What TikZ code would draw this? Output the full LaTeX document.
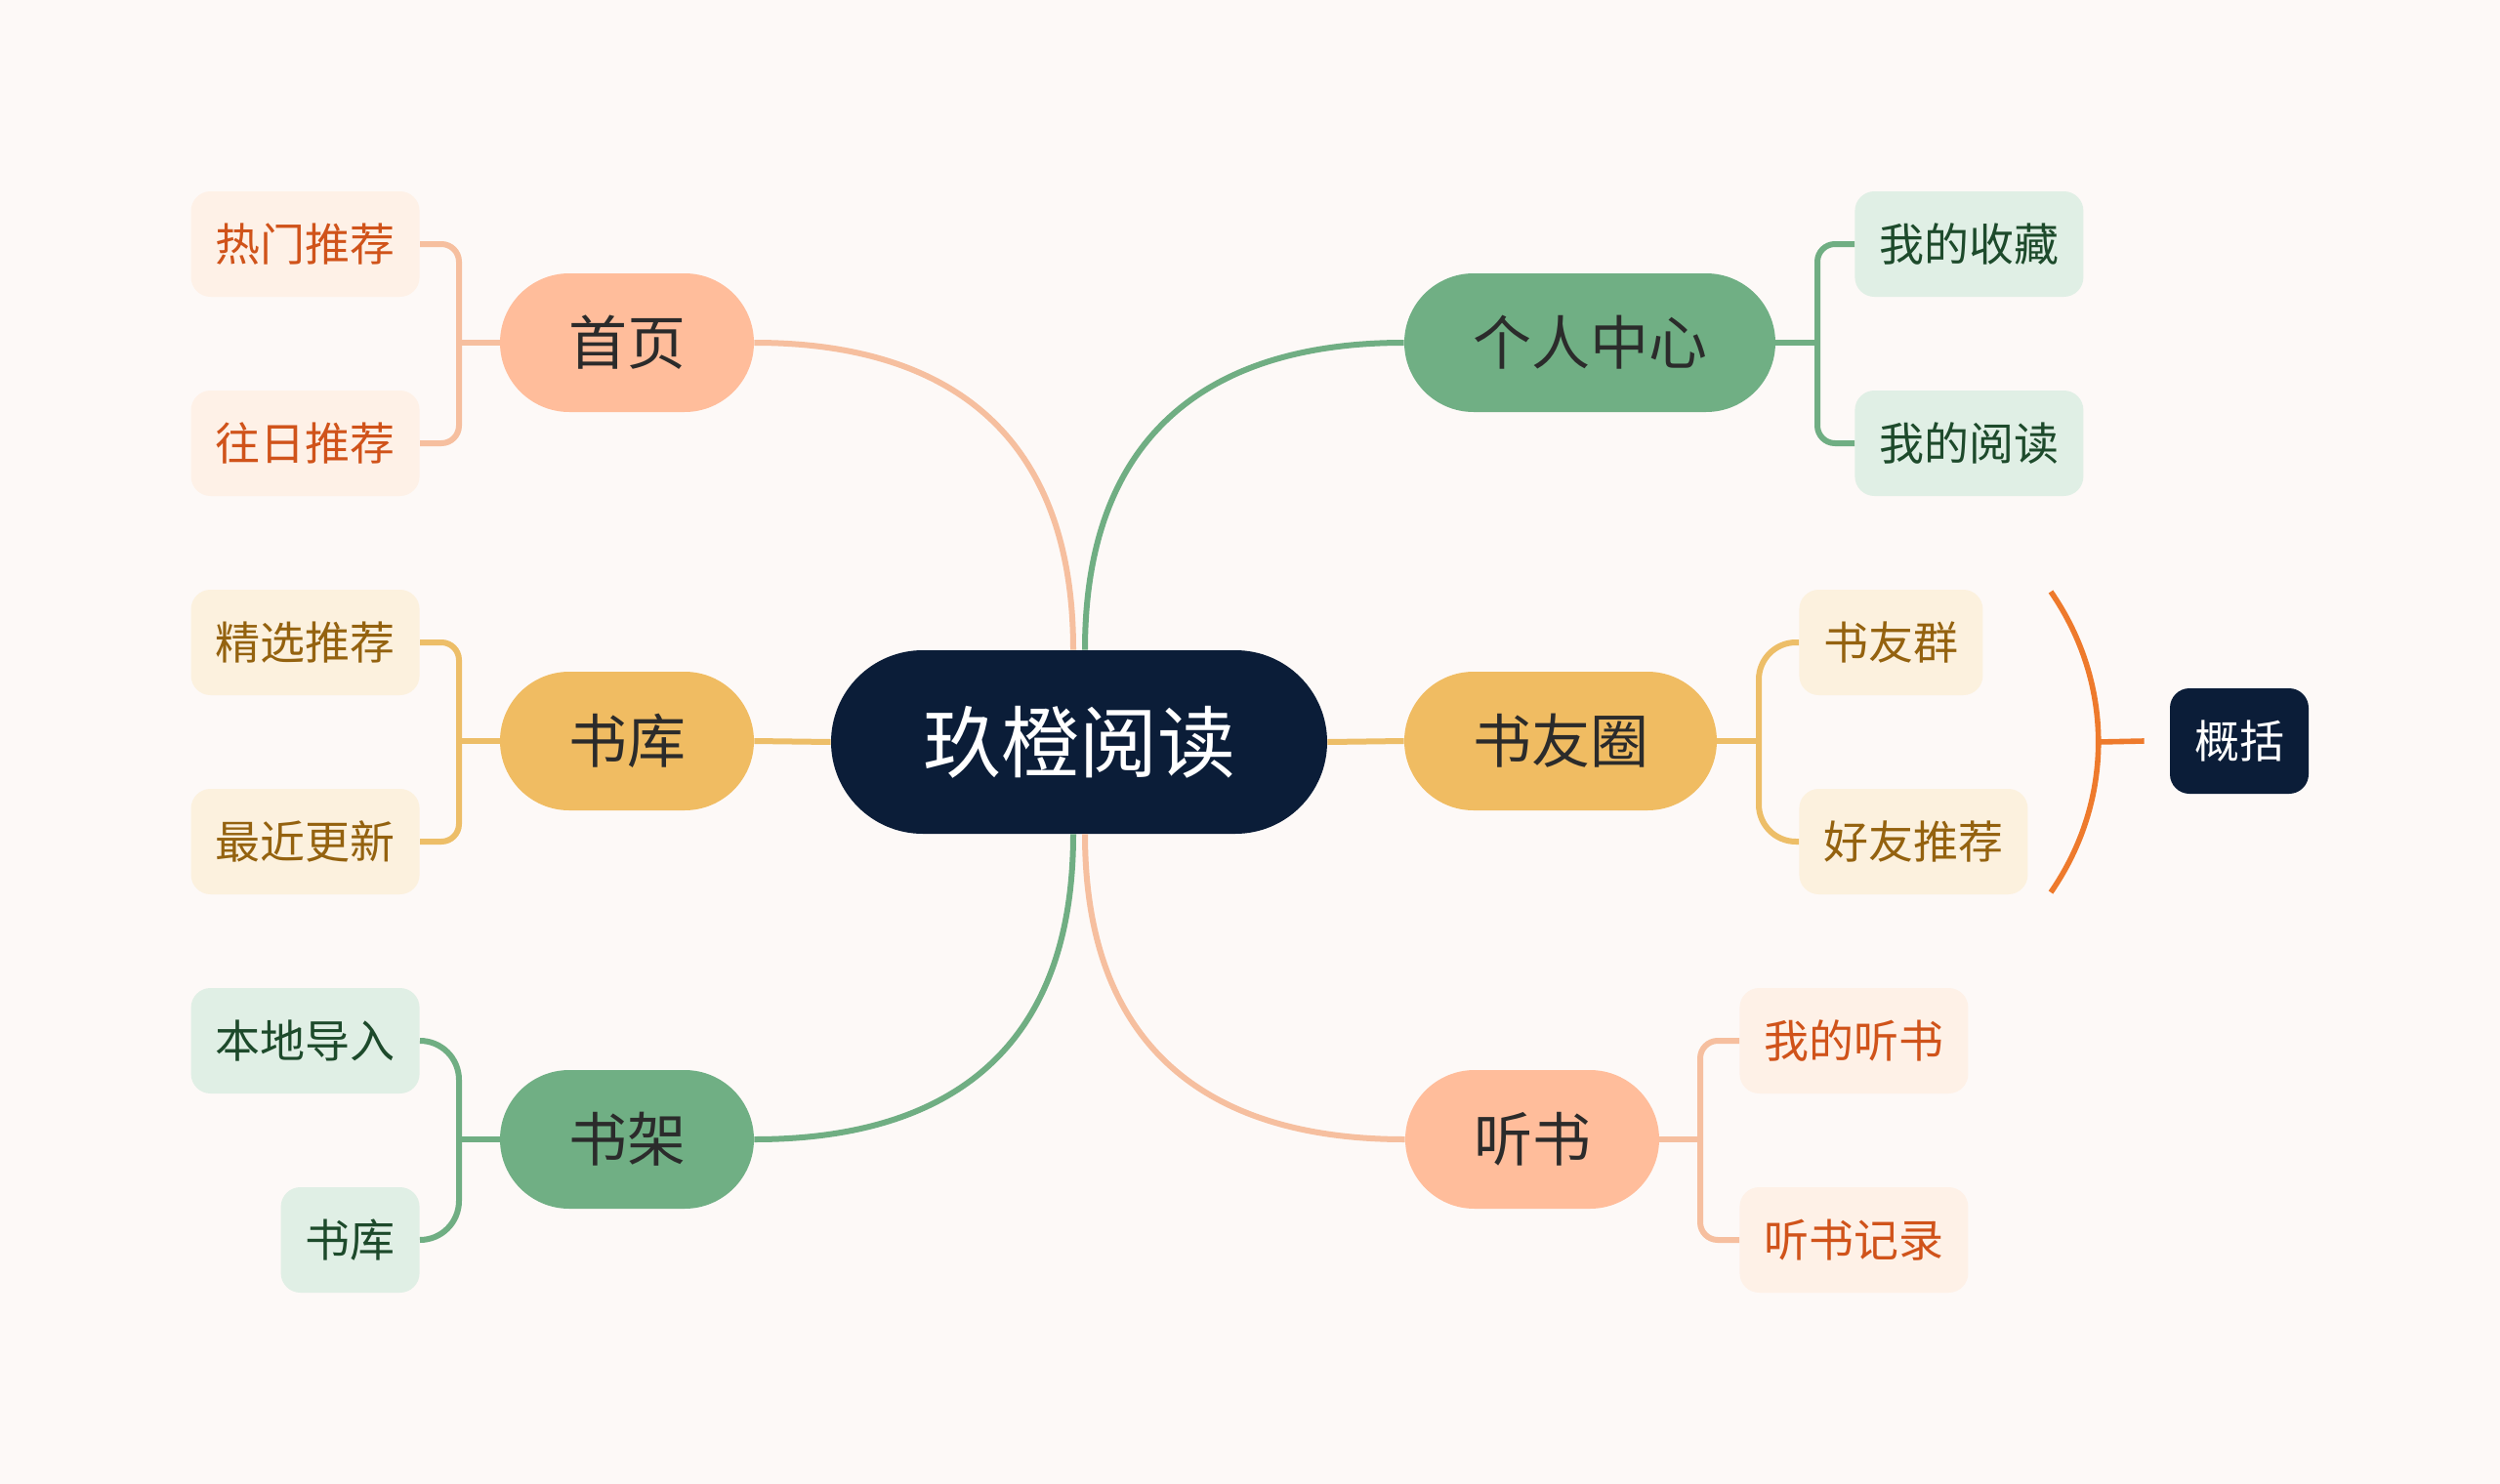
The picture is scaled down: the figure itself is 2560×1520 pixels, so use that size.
\documentclass[tikz,border=0pt]{standalone}
\usepackage{fontspec}
\newfontfamily\cjk{Noto Sans CJK SC}
\usetikzlibrary{positioning}
\definecolor{bgc}{HTML}{FDF9F7}
\definecolor{navy}{HTML}{0B1D38}
\definecolor{peach}{HTML}{FFBD9B}
\definecolor{gold}{HTML}{F0BC62}
\definecolor{sage}{HTML}{70AF84}
\definecolor{peachl}{HTML}{FEF1E7}
\definecolor{goldl}{HTML}{FCF1DE}
\definecolor{sagel}{HTML}{E0EFE5}
\definecolor{peacht}{HTML}{D0531A}
\definecolor{goldt}{HTML}{94620F}
\definecolor{saget}{HTML}{1D4A2B}
\definecolor{peachc}{HTML}{F6BF9F}
\definecolor{goldc}{HTML}{EDBE68}
\definecolor{sagec}{HTML}{70AE83}
\definecolor{sumc}{HTML}{EE7A2C}
\tikzset{
  root/.style={fill=navy, text=white, rounded corners=47pt, minimum height=94pt, inner xsep=47pt, font=\cjk\fontsize{40}{40}\selectfont},
  topic/.style={fill=#1, text=black!83, rounded corners=35.5pt, minimum height=71pt, inner xsep=35pt, font=\cjk\fontsize{30}{30}\selectfont},
  leaf/.style 2 args={fill=#1, text=#2, rounded corners=10pt, minimum height=54pt, inner xsep=12.5pt, font=\cjk\fontsize{23}{23}\selectfont},
  link/.style={draw=#1, line width=3pt},
  fork/.style={draw=#1, line width=3pt, rounded corners=9pt},
  sumline/.style={draw=sumc, line width=2.8pt},
}
\begin{document}
\begin{tikzpicture}[x=0.5pt, y=-0.5pt]
\fill[bgc] (0,0) rectangle (2560,1520);
\node[root] (read) at (1105,760) {玖橙阅读};
\node[topic=peach] (home) at (642,351) {首页};
\node[topic=gold] (lib) at (642,759) {书库};
\node[topic=sage] (shelf) at (642,1167) {书架};
\node[topic=sage] (mine) at (1628,351) {个人中心};
\node[topic=gold] (friends) at (1598,759) {书友圈};
\node[topic=peach] (listen) at (1569,1167) {听书};
\node[leaf={peachl}{peacht}, anchor=east] (hot) at (430,250) {热门推荐};
\node[leaf={peachl}{peacht}, anchor=east] (past) at (430,454) {往日推荐};
\node[leaf={goldl}{goldt}, anchor=east] (pick) at (430,658) {精选推荐};
\node[leaf={goldl}{goldt}, anchor=east] (latest) at (430,862) {最近更新};
\node[leaf={sagel}{saget}, anchor=east] (import) at (430,1066) {本地导入};
\node[leaf={sagel}{saget}, anchor=east] (store) at (430,1270) {书库};
\node[leaf={sagel}{saget}, anchor=west] (fav) at (1899,250) {我的收藏};
\node[leaf={sagel}{saget}, anchor=west] (myread) at (1899,454) {我的阅读};
\node[leaf={goldl}{goldt}, anchor=west] (group) at (1842,658) {书友群};
\node[leaf={goldl}{goldt}, anchor=west] (suggest) at (1842,862) {好友推荐};
\node[leaf={peachl}{peacht}, anchor=west] (mylisten) at (1781,1066) {我的听书};
\node[leaf={peachl}{peacht}, anchor=west] (history) at (1781,1270) {听书记录};
\node[leaf={navy}{white}] (sum) at (2293,759) {概括};
\coordinate (rtl) at ([xshift=-3pt]read.north);
\coordinate (rtr) at ([xshift=3pt]read.north);
\coordinate (rbl) at ([xshift=-3pt]read.south);
\coordinate (rbr) at ([xshift=3pt]read.south);
\draw[link=peachc] (home.east) .. controls +(200,0) and +(0,-220) .. (rtl);
\draw[link=sagec] (mine.west) .. controls +(-200,0) and +(0,-220) .. (rtr);
\draw[link=sagec] (shelf.east) .. controls +(200,0) and +(0,220) .. (rbl);
\draw[link=peachc] (listen.west) .. controls +(-200,0) and +(0,220) .. (rbr);
\draw[link=goldc] (lib.east) -- (read.west);
\draw[link=goldc] (read.east) -- (friends.west);
\coordinate (homej) at (470,351);
\coordinate (libj) at (470,759);
\coordinate (shelfj) at (470,1167);
\coordinate (minej) at (1861,351);
\coordinate (friendsj) at (1801,759);
\coordinate (listenj) at (1741,1167);
\draw[fork=peachc] (hot.east) -| (homej) |- (past.east);
\draw[fork=peachc] (homej) -- (home.west);
\draw[fork=goldc] (pick.east) -| (libj) |- (latest.east);
\draw[fork=goldc] (libj) -- (lib.west);
\draw[fork=sagec, rounded corners=20pt] (import.east) -| (shelfj) |- (store.east);
\draw[fork=sagec] (shelfj) -- (shelf.west);
\draw[fork=sagec] (fav.west) -| (minej) |- (myread.west);
\draw[fork=sagec] (minej) -- (mine.east);
\draw[fork=goldc, rounded corners=19pt] (group.west) -| (friendsj) |- (suggest.west);
\draw[fork=goldc] (friendsj) -- (friends.east);
\draw[fork=peachc] (mylisten.west) -| (listenj) |- (history.west);
\draw[fork=peachc] (listenj) -- (listen.east);
\coordinate (sumtop) at (2100,606);
\coordinate (sumbot) at (2100,914);
\coordinate (summid) at (2149,760);
\draw[sumline] (sumtop) .. controls (2165,700) and (2165,820) .. (sumbot);
\draw[sumline] (summid) -- ([xshift=-13pt]sum.west);
\end{tikzpicture}
\end{document}
